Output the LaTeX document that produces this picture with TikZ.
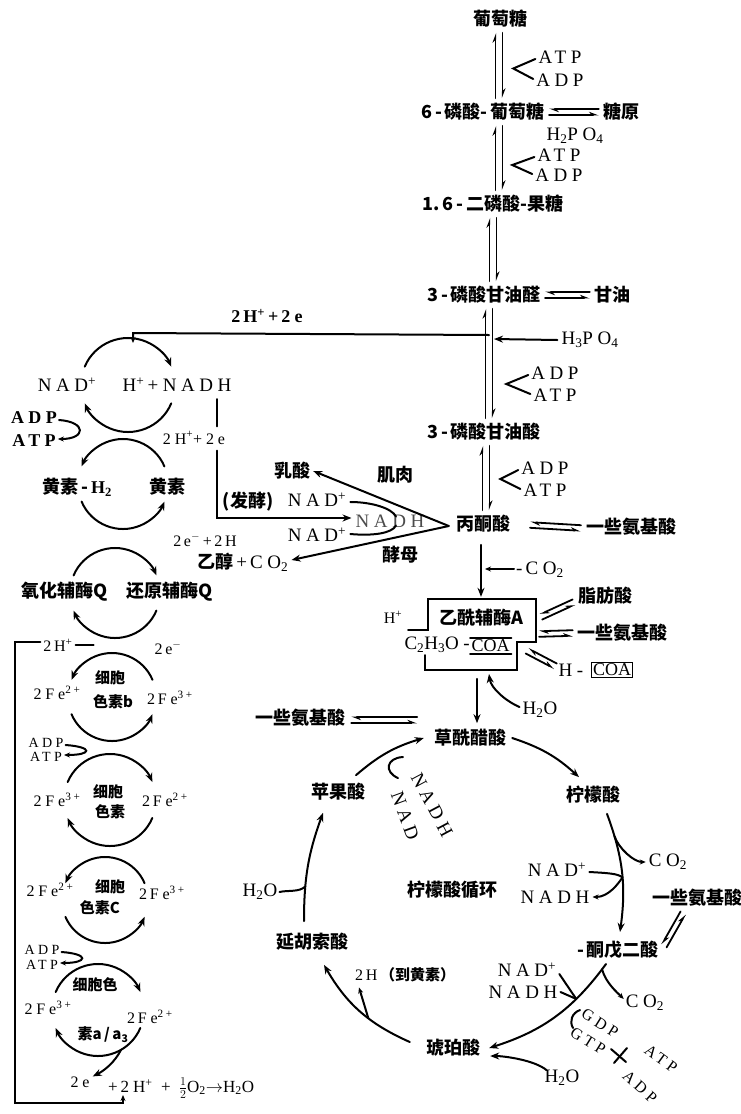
\documentclass[tikz,border=0pt]{standalone}
\usepackage{fontspec}
\setmainfont{Liberation Serif}
\newfontfamily\cjk{Noto Sans CJK SC}
\newfontfamily\spc{Liberation Serif}[LetterSpace=24]
\usetikzlibrary{arrows.meta,calc}
\tikzset{
 cn/.style={inner sep=0pt,font=\cjk\bfseries\fontsize{18}{20}\selectfont},
 cns/.style={inner sep=0pt,font=\cjk\bfseries\fontsize{15}{17}\selectfont},
 lt/.style={inner sep=0pt,font=\spc\fontsize{19}{21}\selectfont},
 ltb/.style={inner sep=0pt,font=\spc\bfseries\fontsize{18}{20}\selectfont},
 lts/.style={inner sep=0pt,font=\spc\fontsize{16}{18}\selectfont},
 ltr/.style={inner sep=0pt,font=\spc\fontsize{16}{18}\selectfont},
 ln/.style={line width=2pt,line cap=round},
 arr/.style={ln,-{Stealth[length=9pt,width=7pt]}},
 sarr/.style={ln,-{Stealth[length=6pt,width=5pt]}},
 hp/.style={line width=1.8pt,line cap=round,-{Stealth[harpoon,length=8pt,width=6pt]}},
}
\newcommand\zhb[1]{{\cjk\bfseries #1}}
\newcommand\supx[1]{\textsuperscript{#1}}
\newcommand\sbx[1]{\textsubscript{#1}}
% double vertical reaction arrow: x, upper node, lower node
\newcommand\dblv[3]{%
 \draw[hp] ($(#1+3.5,0 |- #2.south)+(0,5)$) -- ($(#1+3.5,0 |- #3.north)+(0,-5)$);
 \draw[hp] ($(#1-3.5,0 |- #3.north)+(0,-5)$) -- ($(#1-3.5,0 |- #2.south)+(0,5)$);}
% equilibrium pair between two coordinates
\newcommand\eqd[2]{%
 \draw[hp] ($(#1)!2.8pt!-90:(#2)$) -- ($(#2)!2.8pt!90:(#1)$);
 \draw[hp] ($(#2)!2.8pt!-90:(#1)$) -- ($(#1)!2.8pt!90:(#2)$);}
% "<" bracket between two labels
\newcommand\brk[3]{\draw[ln] ($(#1.west)+(-3,2)$) -- ($(#1.west)!.5!(#2.west)+(#3,0)$) -- ($(#2.west)+(-3,-1)$);}
% hook between two labels on the left
\newcommand\hook[2]{\draw[sarr] ($(#1.east)+(2,2)$) .. controls +(28,2) and +(28,0) .. ($(#2.east)+(2,-2)$);}
% rope circles
\newcommand\ropeA[2]{%
 \draw[arr] ($(#1)+(203:#2)$) arc[start angle=203,end angle=337,radius=#2];
 \draw[arr] ($(#1)+(23:#2)$) arc[start angle=23,end angle=157,radius=#2];}
\newcommand\ropeB[2]{%
 \draw[arr] ($(#1)+(337:#2)$) arc[start angle=337,end angle=203,radius=#2];
 \draw[arr] ($(#1)+(157:#2)$) arc[start angle=157,end angle=23,radius=#2];}

\begin{document}
\begin{tikzpicture}[x=1pt,y=-1pt]
\useasboundingbox (0,0) rectangle (740,1114);
\fill[white] (0,0) rectangle (740,1114);

% ===== glycolysis column =====
\node[cn] (glc) at (500,19) {葡萄糖};
\node[cn] (g6p) at (483,112) {6\,-\,磷酸-\,葡萄糖};
\node[cn] (glyg) at (621,112) {糖原};
\node[lt] (h2po) at (575,136) {H\sbx{2}PO\sbx{4}};
\node[cn] (f16) at (493,204) {1.\,6\,-\,二磷酸-果糖};
\node[cn] (gap) at (484,295) {3\,-\,磷酸甘油醛};
\node[cn] (glyl) at (612,295) {甘油};
\node[cn] (pga) at (484,432) {3\,-\,磷酸甘油酸};
\node[cn] (pyr) at (483,524) {丙酮酸};
\node[cn] (aa1) at (631,527) {一些氨基酸};

\node[lt] (atp1) at (560,57) {ATP};
\node[lt] (adp1) at (560,80) {ADP};
\node[lt] (atp2) at (559,155) {ATP};
\node[lt] (adp2) at (559,175) {ADP};
\node[lt] (h3po) at (590,340) {H\sbx{3}PO\sbx{4}};
\node[lt] (adp3) at (555,373) {ADP};
\node[lt] (atp3) at (555,395) {ATP};
\node[lt] (adp4) at (545,468) {ADP};
\node[lt] (atp4) at (545,490) {ATP};

\dblv{499}{glc}{g6p}
\dblv{499}{g6p}{f16}
\dblv{493}{f16}{gap}
\dblv{489}{gap}{pga}
\dblv{486}{pga}{pyr}

\brk{atp1}{adp1}{-24}
\brk{atp2}{adp2}{-24}
\brk{adp3}{atp3}{-26}
\brk{adp4}{atp4}{-22}

\coordinate (e1a) at ($(g6p.east)+(4,0)$); \coordinate (e1b) at ($(glyg.west)+(-4,0)$);
\eqd{e1a}{e1b}
\coordinate (e2a) at ($(gap.east)+(4,0)$); \coordinate (e2b) at ($(glyl.west)+(-4,0)$);
\eqd{e2a}{e2b}
\coordinate (e3a) at ($(pyr.east)+(20,1)$); \coordinate (e3b) at ($(aa1.west)+(-5,1)$);
\eqd{e3a}{e3b}

\draw[arr] ($(h3po.west)+(-4,0)$) -- (494,339);

% ===== 2H+ + 2e line to NAD circle =====
\node[ltb] (h2e) at (267,316) {2\,H\supx{+}\,+\,2e};
\coordinate (jn) at (489,335);
\coordinate (c1top) at (133,343);
\draw[sarr] (jn) -- (133,333) -- (c1top);

% ===== left respiratory chain =====
\coordinate (C1) at (128,385);
\coordinate (C2) at (123,484);
\coordinate (C3) at (115,593);
\coordinate (C4) at (112,697);
\coordinate (C5) at (110,800);
\coordinate (C6) at (105,900);
\coordinate (C7) at (98,1010);
\ropeA{C1}{47}
\ropeB{C2}{45}
\ropeA{C3}{45}
\ropeB{C4}{44}
\ropeA{C5}{46}
\ropeB{C6}{43}
\ropeA{C7}{46}

\node[lt] (nadp1) at (67,385) {NAD\supx{+}};
\node[lt] (nadh1) at (177,385) {H\supx{+}\,+NADH};
\node[ltb] (adpL1) at (34,418) {ADP};
\node[ltb] (atpL1) at (34,441) {ATP};
\hook{adpL1}{atpL1}
\node[lts] (e2m) at (194,438) {2H\supx{+}+2e};
\node[cn] (flh) at (77,487) {黄素\,-\,{\spc H\sbx{2}}};
\node[cn] (fl) at (167,487) {黄素};
\node[lts] (e2h) at (205,540) {2\,e\supx{$-$}\,+\,2\,H};
\node[cn] (qox) at (65,592) {氧化辅酶Q};
\node[cn] (qred) at (170,592) {还原辅酶Q};
\node[lts] (h2pQ) at (58,645) {2\,H\supx{+}};
\node[lts] (e2Q) at (168,648) {2\,e\supx{$-$}};
\draw[ln] ($(h2pQ.east)+(3,0)$) -- ++(18,0);

\node[cns] (cb1) at (110,678) {细胞};
\node[cns] (cb2) at (113,702) {色素b};
\node[lts] (fb1) at (57,693) {2Fe\supx{2+}};
\node[lts] (fb2) at (170,698) {2\,Fe\supx{3+}};
\node[lts,font=\spc\fontsize{14}{15}\selectfont] (adpL2) at (46,743) {ADP};
\node[lts,font=\spc\fontsize{14}{15}\selectfont] (atpL2) at (46,757) {ATP};
\hook{adpL2}{atpL2}

\node[cns] (cc1) at (108,792) {细胞};
\node[cns] (cc2) at (110,812) {色素};
\node[lts] (fc1) at (57,800) {2Fe\supx{3+}};
\node[lts] (fc2) at (165,800) {2\,Fe\supx{2+}};

\node[cns] (cd1) at (110,887) {细胞};
\node[cns] (cd2) at (100,908) {色素C};
\node[lts] (fd1) at (50,890) {2Fe\supx{2+}};
\node[lts] (fd2) at (162,893) {2\,Fe\supx{3+}};
\node[lts,font=\spc\fontsize{14}{15}\selectfont] (adpL3) at (42,950) {ADP};
\node[lts,font=\spc\fontsize{14}{15}\selectfont] (atpL3) at (42,965) {ATP};
\hook{adpL3}{atpL3}

\node[cns] (ce1) at (95,985) {细胞色};
\node[cns] (ce2) at (103,1035) {素a\,/\,a\sbx{3}};
\node[lts] (fe1) at (48,1008) {2Fe\supx{3+}};
\node[lts] (fe2) at (150,1017) {2\,Fe\supx{2+}};

\node[lts] (e2b) at (80,1082) {2e};
\node[anchor=west,inner sep=0pt,font=\spc\fontsize{17}{19}\selectfont] (btm) at (108,1088) {+\,2H\supx{+} + $\frac{1}{2}$O\sbx{2}$\rightarrow$H\sbx{2}O};
\draw[arr] ($(C7)+(60:46)$) .. controls +(-6,12) and +(12,-6) .. ($(e2b.north east)+(3,0)$);
\coordinate (t2h) at (123,1095);
\draw[sarr] ($(h2pQ.west)+(-3,-3)$) -- (15,642) -- (15,1103) -- (123,1103) -- (t2h);

% ===== fermentation =====
\node[cn] (lac) at (292,471) {乳酸};
\node[cn] (mus) at (395,475) {肌肉};
\node[cn] (frm) at (248,502) {(发酵)};
\node[lt] (nadF1) at (317,500) {NAD\supx{+}};
\node[lt,text=black!70] (nadhF) at (390,521) {NADH};
\node[lt] (nadF2) at (317,535) {NAD\supx{+}};
\node[anchor=west,inner sep=0pt] (eth) at (197,562) {\zhb{\fontsize{18}{20}\selectfont 乙醇}{\spc\fontsize{19}{21}\selectfont\,+\,CO\sbx{2}}};
\node[cn] (yst) at (400,555) {酵母};
\coordinate (apex) at ($(pyr.west)+(-7,2)$);
\draw[arr] (apex) -- ($(lac.east)+(3,0)$);
\draw[arr] (apex) -- ($(eth.east)+(3,-2)$);
\draw[ln] ($(nadF1.east)+(4,2)$) .. controls +(22,0) and +(-4,-8) .. ($(nadhF.north)+(6,2)$);
\draw[ln] ($(nadF2.east)+(4,-1)$) .. controls +(22,2) and +(-4,8) .. ($(nadhF.south)+(6,-2)$);
\draw[ln] ($(217,0 |- nadh1.south)+(0,7)$) -- ($(217,0 |- e2m.north)+(0,-5)$);
\draw[arr] ($(217,0 |- e2m.south)+(0,6)$) |- ($(nadhF.west)+(-4,-3)$);

% ===== acetyl-CoA =====
\node[lt] (co2p) at (540,570) {-\,CO\sbx{2}};
\draw[arr] ($(pyr.south)+(-2,12)$) -- ($(pyr.south)+(-2,64)$);
\draw[sarr] ($(co2p.west)+(-2,-1)$) -- (485,569);
\draw[ln] (408,630) -- (428,630) -- (428,599) -- (536,599) -- (536,642) -- (517,642) -- (517,670) -- (425,670) -- (425,655);
\node[cn] (acoa) at (481,618) {乙酰辅酶A};
\node[lts] (hp) at (393,617) {H\supx{+}};
\node[lt,anchor=east] (c2h) at (470,645) {C\sbx{2}H\sbx{3}O-};
\node[inner sep=1.5pt,anchor=west,font=\rmfamily\fontsize{18}{20}\selectfont] (coa1) at (470,646) {COA};
\draw[ln] (coa1.north west) -- (coa1.north east);
\draw[ln] (coa1.south west) -- (coa1.south east);
\node[cn] (fa) at (605,596) {脂肪酸};
\node[cn] (aa2) at (622,633) {一些氨基酸};
\node[lt] (hm) at (571,670) {H-};
\node[draw,line width=1.5pt,inner sep=1.5pt,font=\rmfamily\fontsize{18}{20}\selectfont] (coa2) at (612,670) {COA};
\coordinate (e5a) at (541,617); \coordinate (e5b) at ($(fa.west)+(-4,6)$);
\eqd{e5a}{e5b}
\coordinate (e6a) at (539,634); \coordinate (e6b) at ($(aa2.west)+(-4,0)$);
\eqd{e6a}{e6b}
\coordinate (e7a) at (527,651); \coordinate (e7b) at ($(hm.west)+(-3,-4)$);
\eqd{e7a}{e7b}
\node[lt] (h2oB) at (540,710) {H\sbx{2}O};
\coordinate (boxb) at (489,674);
\draw[arr] ($(h2oB.west)+(-3,-3)$) .. controls +(-14,-6) and +(2,14) .. (boxb);

% ===== citric acid cycle =====
\node[cn] (oaa) at (470,738) {草酰醋酸};
\node[cn] (aaL) at (300,718) {一些氨基酸};
\node[cn] (cit) at (593,795) {柠檬酸};
\node[cn] (akg) at (618,950) {-\,酮戊二酸};
\node[cn] (suc) at (453,1048) {琥珀酸};
\node[cn] (fum) at (312,942) {延胡索酸};
\node[cn] (mal) at (338,792) {苹果酸};
\node[cn] (cyc) at (452,890) {柠檬酸循环};
\coordinate (e4a) at ($(aaL.east)+(6,2)$); \coordinate (e4b) at ($(aaL.east)+(72,2)$);
\eqd{e4a}{e4b}
\draw[arr] ($(acoa.south)+(-4,52)$) -- ($(oaa.north)+(7,-6)$);

\draw[arr] ($(oaa.east)+(6,0)$) to[bend left=12] ($(cit.north)+(-14,-9)$);
\draw[arr] ($(cit.south)+(14,10)$) to[bend left=14] coordinate[pos=.18] (b1) coordinate[pos=.55] (b2) ($(akg.north)+(2,-9)$);
\draw[arr] ($(akg.south)+(-12,5)$) to[bend left=18] coordinate[pos=.04] (c1) coordinate[pos=.3] (c2) ($(suc.east)+(9,0)$);
\draw[arr] ($(suc.west)+(-16,-6)$) to[bend left=18] coordinate[pos=.4] (d1) ($(fum.south)+(12,14)$);
\draw[arr] ($(fum.north)+(-8,-12)$) to[bend left=10] coordinate[pos=.3] (f1) ($(mal.south)+(-15,12)$);
\draw[arr] ($(mal.north)+(18,-8)$) to[bend left=12] ($(oaa.west)+(-10,0)$);

\node[lt] (co2a) at (668,862) {CO\sbx{2}};
\draw[sarr] (b1) .. controls +(4,12) and +(-12,0) .. ($(co2a.west)+(-3,0)$);
\node[lt] (nadA) at (557,870) {NAD\supx{+}};
\node[lt] (nadhA) at (555,897) {NADH};
\draw[ln] ($(nadA.east)+(3,2)$) .. controls +(18,1) and +(-4,-4) .. (b2);
\draw[sarr] (b2) .. controls +(-4,6) and +(16,0) .. ($(nadhA.east)+(3,0)$);
\node[cn] (aa3) at (697,898) {一些氨基酸};
\coordinate (e8a) at ($(aa3.south)+(-14,6)$); \coordinate (e8b) at ($(akg.east)+(5,-4)$);
\eqd{e8a}{e8b}

\node[lt] (co2b) at (645,1003) {CO\sbx{2}};
\draw[sarr] (c1) .. controls +(4,14) and +(-6,-6) .. ($(co2b.west)+(-2,-4)$);
\node[lt] (nadB) at (527,970) {NAD\supx{+}};
\node[lt] (nadhB) at (523,992) {NADH};
\draw[ln] ($(nadB.east)+(3,4)$) -- (c2);
\draw[ln] ($(nadhB.east)+(3,0)$) -- (c2);

\node[ltr,rotate=-32] (gdp) at (600,1023) {GDP};
\node[ltr,rotate=-32] (gtp) at (588,1041) {GTP};
\node[ltr,rotate=-36] (atpC) at (661,1059) {ATP};
\node[ltr,rotate=-42] (adpC) at (640,1087) {ADP};
\draw[ln] (580,1010) .. controls (572,1013) and (569,1021) .. (573,1028);
\draw[ln] (611,1049) -- (626,1062);
\draw[ln] (627,1048) -- (614,1063);

\node[lt] (h2oC) at (562,1078) {H\sbx{2}O};
\draw[arr] ($(h2oC.north west)+(2,0)$) .. controls +(-12,-10) and +(14,0) .. ($(suc.east)+(10,8)$);

\node[anchor=west,inner sep=0pt] (twoH) at (355,975) {{\spc\fontsize{16}{18}\selectfont 2\,H\,}\zhb{\fontsize{15}{17}\selectfont （到黄素）}};
\draw[sarr] (d1) -- ($(twoH.south west)+(4,5)$);

\node[lt] (h2oL) at (260,892) {H\sbx{2}O};
\draw[ln] ($(h2oL.east)+(2,0)$) .. controls +(8,-2) and +(-6,6) .. (f1);

\node[lt,rotate=-62] (nadhM) at (432,805) {NADH};
\node[lt,rotate=-70] (nadM) at (405,816) {NAD};
\draw[ln] (403,757) .. controls (386,758) and (384,772) .. (398,778);

\end{tikzpicture}
\end{document}
